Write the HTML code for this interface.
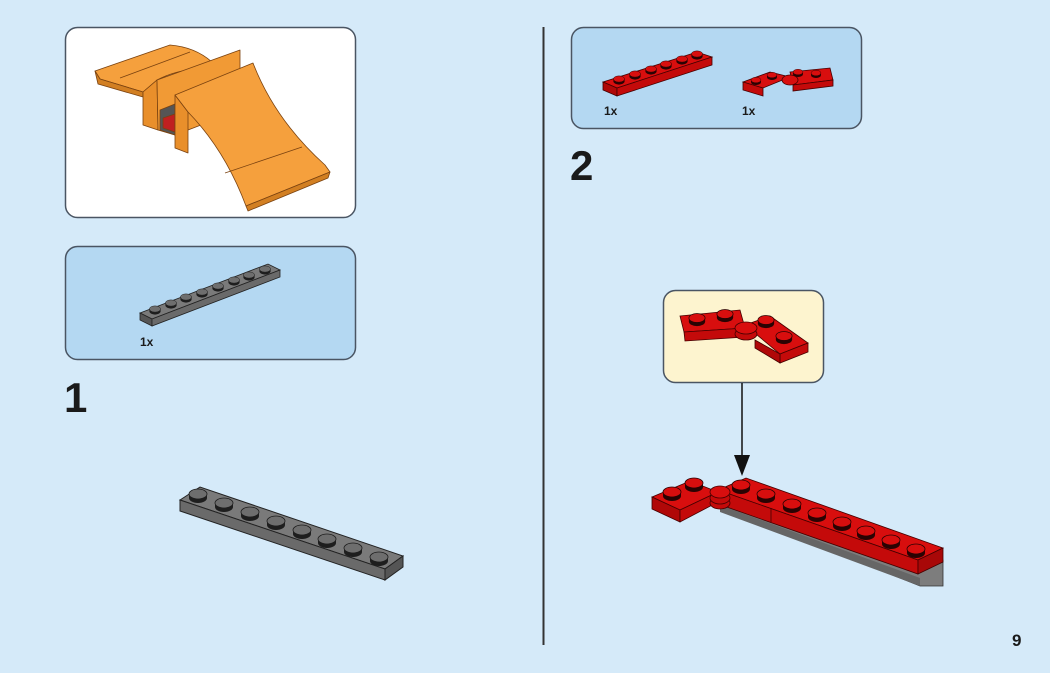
<!DOCTYPE html>
<html><head><meta charset="utf-8"><style>
html,body{margin:0;padding:0;background:#d5eaf9;}
svg{display:block}
text{font-family:"Liberation Sans",Arial,sans-serif;font-weight:bold;fill:#1a1a1a}
</style></head><body>
<svg width="1050" height="673" viewBox="0 0 1050 673" xmlns="http://www.w3.org/2000/svg">
<defs>
<g id="rs"><ellipse cx="0" cy="4" rx="9" ry="5" fill="#2a0303"/><rect x="-9" y="0" width="18" height="4" fill="#2a0303"/><ellipse cx="0" cy="0" rx="9" ry="5" fill="#d80e0e" stroke="#2a0303" stroke-width="0.8"/></g>
<g id="gs"><ellipse cx="0" cy="4" rx="9" ry="5" fill="#1e1e1e"/><rect x="-9" y="0" width="18" height="4" fill="#1e1e1e"/><ellipse cx="0" cy="0" rx="9" ry="5" fill="#6e6e6e" stroke="#1e1e1e" stroke-width="0.8"/></g>
</defs>
<rect width="1050" height="673" fill="#d5eaf9"/>
<rect x="65.5" y="27.5" width="290" height="190" rx="12" fill="#fff" stroke="#4a5563" stroke-width="1.5"/>
<rect x="65.5" y="246.5" width="290" height="113" rx="12" fill="#b4d8f2" stroke="#4a5563" stroke-width="1.5"/>
<rect x="571.5" y="27.5" width="290" height="101" rx="12" fill="#b4d8f2" stroke="#4a5563" stroke-width="1.5"/>
<rect x="663.5" y="290.5" width="160" height="92" rx="12" fill="#fdf4cf" stroke="#4a5563" stroke-width="1.5"/>
<line x1="543.5" y1="27" x2="543.5" y2="645" stroke="#333" stroke-width="2"/>
<!-- ramp -->
<g stroke="#7a4210" stroke-width="0.8" stroke-linejoin="round">
<path d="M95,71 L170,45 Q195,47 212,62 Q226,74 240,76 L240,84 Q222,82 205,72 Q185,66 157,80 L143,92 L100,79 Z" fill="#f5a03d"/>
<path d="M95,71 L100,79 L143,92 L143,97 L98,84 Z" fill="#d27f22"/>
<line x1="120" y1="78" x2="190" y2="52"/>
<polygon points="143,92 157,80 158,130 143,125" fill="#e98f2b"/>
<polygon points="157,80 240,50 240,110 175,135 158,130" fill="#f19a35"/>
<polygon points="160,110 175,104 175,135 160,130" fill="#555"/>
<polygon points="163,118 175,114 175,132 163,128" fill="#c02020"/>
<polygon points="175,95 188,112 188,153 175,148" fill="#e98f2b"/>
<path d="M175,95 L253,63 Q275,120 325,165 L330,172 L246,206 Q225,150 188,112 Z" fill="#f5a03d"/>
<path d="M246,206 L330,172 L328,178 L248,211 Z" fill="#d27f22"/>
<line x1="225" y1="173" x2="302" y2="147"/>
</g>
<!-- small gray plate -->
<polygon points="140,313 268,264 280,270 152,319" fill="#7a7a7a" stroke="#222" stroke-width="0.8"/>
<polygon points="140,313 152,319 152,326 140,320" fill="#555" stroke="#222" stroke-width="0.8"/>
<polygon points="152,319 280,270 280,277 152,326" fill="#6a6a6a" stroke="#222" stroke-width="0.8"/>
<use href="#gs" transform="translate(155,309) scale(0.62)"/><use href="#gs" transform="translate(171,303) scale(0.62)"/><use href="#gs" transform="translate(186,297) scale(0.62)"/><use href="#gs" transform="translate(202,292) scale(0.62)"/><use href="#gs" transform="translate(218,286) scale(0.62)"/><use href="#gs" transform="translate(234,280) scale(0.62)"/><use href="#gs" transform="translate(249,275) scale(0.62)"/><use href="#gs" transform="translate(265,269) scale(0.62)"/>
<text x="140" y="346" font-size="12">1x</text>
<text x="64" y="412" font-size="42">1</text>
<!-- big gray plate -->
<polygon points="180,500 200,487 403,556 385,569" fill="#7a7a7a" stroke="#222" stroke-width="1"/>
<polygon points="180,500 385,569 385,580 180,511" fill="#6a6a6a" stroke="#222" stroke-width="1"/>
<polygon points="385,569 403,556 403,567 385,580" fill="#555" stroke="#222" stroke-width="1"/>
<use href="#gs" x="198" y="494"/><use href="#gs" x="224" y="503"/><use href="#gs" x="250" y="512"/><use href="#gs" x="276" y="521"/><use href="#gs" x="302" y="530"/><use href="#gs" x="327" y="539"/><use href="#gs" x="353" y="548"/><use href="#gs" x="379" y="557"/>
<!-- red 1x6 callout -->
<polygon points="603,82 697,52 712,57 617,88" fill="#d80e0e" stroke="#400" stroke-width="0.8"/>
<polygon points="603,82 617,88 617,96 603,90" fill="#b00808" stroke="#400" stroke-width="0.8"/>
<polygon points="617,88 712,57 712,65 617,96" fill="#c40a0a" stroke="#400" stroke-width="0.8"/>
<use href="#rs" transform="translate(619,79) scale(0.62)"/><use href="#rs" transform="translate(635,74) scale(0.62)"/><use href="#rs" transform="translate(651,69) scale(0.62)"/><use href="#rs" transform="translate(666,64) scale(0.62)"/><use href="#rs" transform="translate(682,59) scale(0.62)"/><use href="#rs" transform="translate(697,54) scale(0.62)"/>
<!-- red hinge callout -->
<polygon points="743,82 770,72 790,77 763,88" fill="#d80e0e" stroke="#400" stroke-width="0.8"/>
<polygon points="743,82 763,88 763,96 743,90" fill="#c40a0a" stroke="#400" stroke-width="0.8"/>
<polygon points="790,72 830,68 833,80 793,85" fill="#d80e0e" stroke="#400" stroke-width="0.8"/>
<polygon points="793,85 833,80 833,86 793,91" fill="#c40a0a" stroke="#400" stroke-width="0.8"/>
<ellipse cx="790" cy="80" rx="8" ry="5" fill="#d80e0e" stroke="#400" stroke-width="0.8"/>
<use href="#rs" transform="translate(756,80) scale(0.55)"/><use href="#rs" transform="translate(772,75) scale(0.55)"/><use href="#rs" transform="translate(798,72) scale(0.55)"/><use href="#rs" transform="translate(816,73) scale(0.55)"/>
<text x="604" y="115" font-size="12">1x</text>
<text x="742" y="115" font-size="12">1x</text>
<text x="570" y="180" font-size="42">2</text>
<!-- yellow callout hinge -->
<polygon points="680,316 740,310 745,328 684,332" fill="#d80e0e" stroke="#400" stroke-width="0.8"/>
<polygon points="684,332 745,328 745,337 685,341" fill="#c40a0a" stroke="#400" stroke-width="0.8"/>
<polygon points="745,325 770,316 808,343 780,354" fill="#d80e0e" stroke="#400" stroke-width="0.8"/>
<polygon points="780,354 808,343 808,352 780,363" fill="#c40a0a" stroke="#400" stroke-width="0.8"/>
<polygon points="755,340 780,354 780,363 755,348" fill="#b00808" stroke="#400" stroke-width="0.8"/>
<ellipse cx="746" cy="334" rx="11" ry="6" fill="#c40a0a" stroke="#400" stroke-width="0.8"/>
<ellipse cx="746" cy="328" rx="11" ry="6" fill="#d80e0e" stroke="#400" stroke-width="0.8"/>
<use href="#rs" transform="translate(697,318) scale(0.9)"/><use href="#rs" transform="translate(725,314) scale(0.9)"/><use href="#rs" transform="translate(766,320) scale(0.9)"/><use href="#rs" transform="translate(784,336) scale(0.9)"/>
<!-- arrow -->
<line x1="742" y1="383" x2="742" y2="458" stroke="#111" stroke-width="1.5"/>
<polygon points="734,455 750,455 742,476" fill="#111"/>
<!-- main red assembly -->
<polygon points="720,495 943,560 943,586 920,586 720,507" fill="#7d7d7d" stroke="#333" stroke-width="0.8"/>
<polygon points="720,505 920,578 920,586 720,512" fill="#666"/>
<polygon points="652,497 690,481 718,492 680,510" fill="#d80e0e" stroke="#400" stroke-width="0.8"/>
<polygon points="652,497 680,510 680,522 652,509" fill="#b00808" stroke="#400" stroke-width="0.8"/>
<polygon points="680,510 718,492 718,502 680,522" fill="#c40a0a" stroke="#400" stroke-width="0.8"/>
<polygon points="718,490 746,478 943,548 918,560" fill="#d80e0e" stroke="#400" stroke-width="0.8"/>
<polygon points="718,490 918,560 918,574 718,504" fill="#c40a0a" stroke="#400" stroke-width="0.8"/>
<polygon points="918,560 943,548 943,562 918,574" fill="#a80808" stroke="#400" stroke-width="0.8"/>
<line x1="771" y1="508" x2="771" y2="522" stroke="#400" stroke-width="0.8"/>
<ellipse cx="720" cy="503" rx="10" ry="6" fill="#c40a0a" stroke="#400" stroke-width="0.8"/>
<ellipse cx="720" cy="498" rx="10" ry="6" fill="#c40a0a" stroke="#400" stroke-width="0.8"/>
<ellipse cx="720" cy="492" rx="10" ry="6" fill="#d80e0e" stroke="#400" stroke-width="0.8"/>
<use href="#rs" x="672" y="492"/><use href="#rs" x="694" y="483"/>
<use href="#rs" x="741" y="485"/><use href="#rs" x="766" y="494"/><use href="#rs" x="792" y="504"/><use href="#rs" x="817" y="513"/><use href="#rs" x="842" y="522"/><use href="#rs" x="866" y="531"/><use href="#rs" x="891" y="540"/><use href="#rs" x="916" y="549"/>
<text x="1012" y="646" font-size="17">9</text>
</svg>
</body></html>
